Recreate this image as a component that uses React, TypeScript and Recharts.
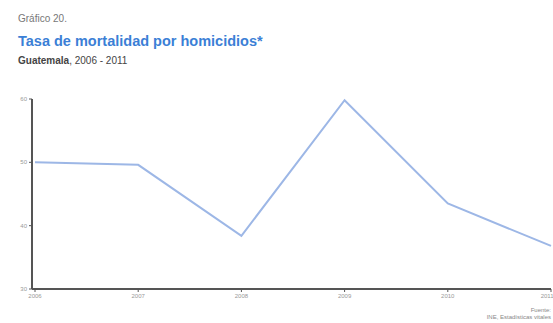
import React from 'react';
import { LineChart, Line, XAxis, YAxis } from 'recharts';

const years = ['2006', '2007', '2008', '2009', '2010', '2011'];
const rates = [50, 49.6, 38.4, 59.8, 43.5, 36.8];
const yTicks = [30, 40, 50, 60];

const data = years.map((year, i) => ({ year, rate: rates[i] }));

const App: React.FC = () => {
  return (
    <div
      style={{
        position: 'fixed',
        left: 0,
        top: 0,
        width: 553,
        height: 323,
        background: '#fff',
        fontFamily: '"Liberation Sans", Arial, sans-serif',
        overflow: 'hidden',
      }}
    >
      <div style={{ position: 'absolute', left: 18, top: 13, fontSize: 10, color: '#777' }}>
        Gráfico 20.
      </div>
      <div
        style={{
          position: 'absolute',
          left: 18,
          top: 33,
          fontSize: 14.5,
          fontWeight: 'bold',
          color: '#3b7fd6',
        }}
      >
        Tasa de mortalidad por homicidios*
      </div>
      <div style={{ position: 'absolute', left: 18, top: 55, fontSize: 10, color: '#444' }}>
        <b>Guatemala</b>, 2006 - 2011
      </div>
      <div
        style={{ position: 'absolute', right: 2, top: 307, fontSize: 6, color: '#888', textAlign: 'right', lineHeight: '7px' }}
      >
        <div>Fuente:</div>
        <div>INE, Estadísticas vitales</div>
      </div>
      <LineChart
        width={553}
        height={323}
        data={data}
        margin={{ top: 99, right: 2, bottom: 16, left: 4 }}
        style={{ position: 'absolute', left: 0, top: 0 }}
      >
        <XAxis
          dataKey="year"
          padding={{ left: 3, right: 0 }}
          tick={{ fontSize: 6, fill: '#999' }}
          tickSize={3}
          axisLine={{ stroke: '#555', strokeWidth: 2 }}
          tickLine={{ stroke: '#555' }}
          height={18}
        />
        <YAxis
          domain={[30, 60]}
          ticks={yTicks}
          tick={{ fontSize: 6, fill: '#999' }}
          tickSize={3}
          axisLine={{ stroke: '#555', strokeWidth: 2 }}
          tickLine={{ stroke: '#555' }}
          width={28}
        />
        <Line
          type="linear"
          dataKey="rate"
          stroke="#9db7e6"
          strokeWidth={2}
          dot={false}
          isAnimationActive={false}
        />
      </LineChart>
    </div>
  );
};

export default App;
